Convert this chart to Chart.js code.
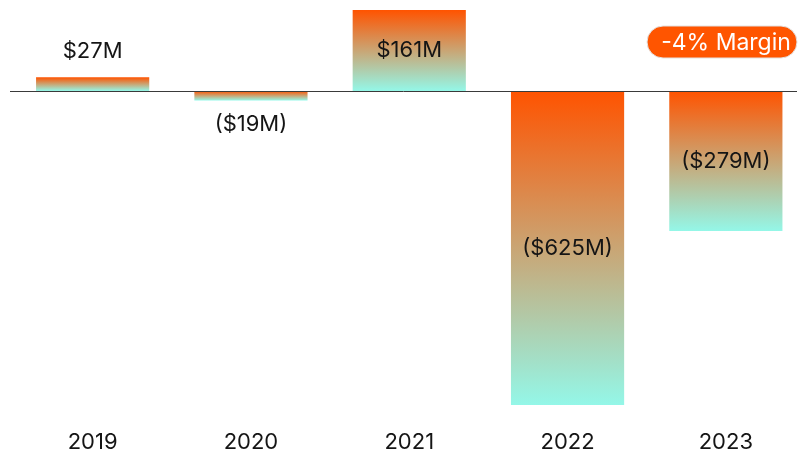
<!DOCTYPE html>
<html>
<head>
<meta charset="utf-8">
<script src="https://cdn.jsdelivr.net/npm/chart.js@4"></script>
<style>
    html, body { margin: 0; padding: 0; background: #fff; overflow: hidden; }
    #wrap { width: 812px; height: 451px; }
</style>
</head>
<body>
<div id="wrap"><canvas id="myChart"></canvas></div>
<script>
const years = ['2019', '2020', '2021', '2022', '2023'];
const netIncome = [27, -19, 161, -625, -279]; // $M
const marginLabel = '-4% Margin';

const FONT = 'Inter';

function formatMoney(v) {
    return v < 0 ? `($${-v}M)` : `$${v}M`;
}

// orange at the top of each bar, fading to aqua at its bottom
function barGradient(context) {
    const chart = context.chart;
    const { ctx, chartArea, scales } = chart;
    if (!chartArea || context.type !== 'data') return '#ff5300';
    const y0 = scales.y.getPixelForValue(0);
    const y1 = scales.y.getPixelForValue(context.raw);
    const g = ctx.createLinearGradient(0, Math.min(y0, y1), 0, Math.max(y0, y1));
    g.addColorStop(0, '#ff5300');
    g.addColorStop(1, '#94f7e8');
    return g;
}

// zero line, value labels and the margin pill
const extras = {
    id: 'extras',
    afterDatasetsDraw(chart) {
        const { ctx, scales: { y } } = chart;
        const zero = Math.round(y.getPixelForValue(0)) + 0.5;
        ctx.save();
        ctx.strokeStyle = '#3a3a3a';
        ctx.lineWidth = 1;
        ctx.beginPath();
        ctx.moveTo(10, zero);
        ctx.lineTo(797, zero);
        ctx.stroke();

        ctx.font = `22px ${FONT}`;
        ctx.fillStyle = '#151515';
        ctx.textAlign = 'center';
        ctx.textBaseline = 'middle';
        const meta = chart.getDatasetMeta(0);
        meta.data.forEach((bar, i) => {
            const v = netIncome[i];
            const h = Math.abs(bar.base - bar.y);
            let ly;
            if (h > 40) {
                ly = (bar.y + bar.base) / 2;
            } else {
                ly = v >= 0 ? bar.y - 26 : bar.y + 24;
            }
            ctx.fillText(formatMoney(v), bar.x, ly);
        });

        ctx.beginPath();
        ctx.roundRect(647, 26, 150, 32, 16);
        ctx.fillStyle = '#ff5500';
        ctx.fill();
        ctx.strokeStyle = '#e2e2e2';
        ctx.stroke();
        ctx.fillStyle = '#ffffff';
        ctx.font = `23px ${FONT}`;
        ctx.fillText(marginLabel, 726, 43);
        ctx.restore();
    }
};

const ctx = document.getElementById('myChart').getContext('2d');
const myChart = new Chart(ctx, {
    type: 'bar',
    data: {
        labels: years,
        datasets: [{
            data: netIncome,
            backgroundColor: barGradient,
            borderWidth: 0,
            barPercentage: 0.715,
            categoryPercentage: 1
        }]
    },
    options: {
        responsive: true,
        maintainAspectRatio: false,
        animation: false,
        layout: {
            padding: { left: 13.5, right: 7, top: 10, bottom: 0 }
        },
        plugins: {
            legend: { display: false },
            tooltip: { enabled: false }
        },
        scales: {
            x: {
                grid: { display: false, drawTicks: false },
                border: { display: false },
                ticks: {
                    color: '#151515',
                    font: { family: FONT, size: 22, lineHeight: 1 },
                    padding: 26
                },
                afterFit(scale) {
                    scale.height = 46;
                }
            },
            y: {
                display: false,
                min: -625,
                max: 161
            }
        }
    },
    plugins: [extras]
});
</script>
</body>
</html>
